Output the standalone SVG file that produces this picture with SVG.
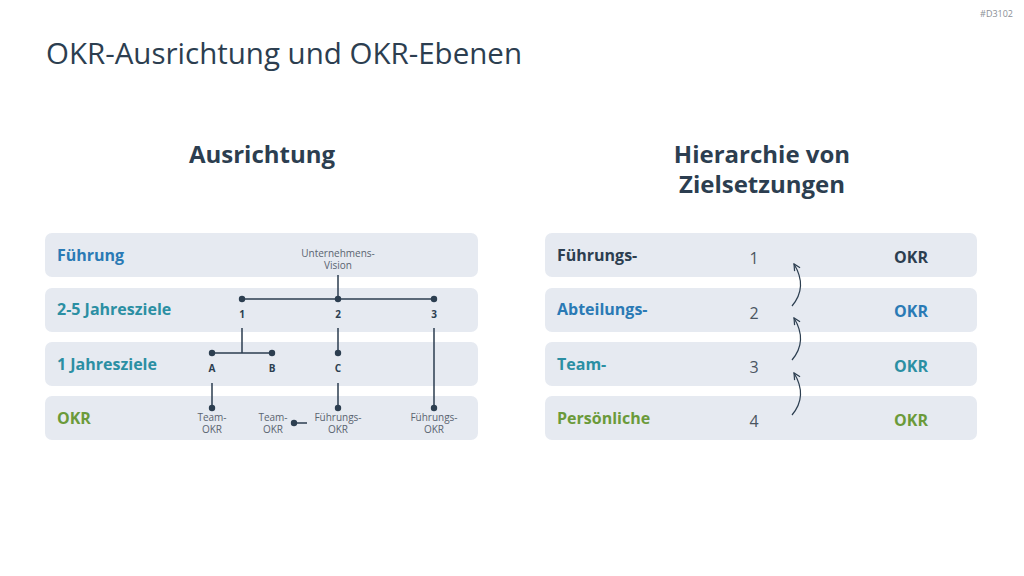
<svg xmlns="http://www.w3.org/2000/svg" width="1024" height="576" viewBox="0 0 1024 576">
<defs>
<style>
.bg{fill:#e6eaf1}
.t{font-family:"Open Sans","Liberation Sans",sans-serif}
.lbl{font-family:"Open Sans","Liberation Sans",sans-serif;font-size:16px;font-weight:700}
.sm{font-family:"Open Sans","Liberation Sans",sans-serif;font-size:10px;fill:#5a6470;text-anchor:middle}
.b{font-family:"Open Sans","Liberation Sans",sans-serif;font-size:10px;font-weight:700;fill:#2c3e50;text-anchor:middle}
.num{font-family:"Open Sans","Liberation Sans",sans-serif;font-size:16px;fill:#4a5560;text-anchor:middle}
.ln{stroke:#2c3e50;stroke-width:1.5;fill:none}
.dot{fill:#2c3e50}
.arr{stroke:#2c3e50;stroke-width:1.2;fill:none}
</style>
<marker id="ah" viewBox="0 0 10 10" refX="9" refY="5" markerWidth="8" markerHeight="8" orient="auto-start-reverse" markerUnits="userSpaceOnUse">
<path d="M1,1 L9,5 L1,9" fill="none" stroke="#2c3e50" stroke-width="1.5"/>
</marker>
</defs>
<rect width="1024" height="576" fill="#ffffff"/>
<text x="1013" y="17" class="t" font-size="9" fill="#8a8f96" text-anchor="end">#D3102</text>
<text x="46" y="64" class="t" font-size="29.5" fill="#2c3e50">OKR-Ausrichtung und OKR-Ebenen</text>

<text x="262" y="163" class="t" font-size="24" font-weight="700" fill="#2c3e50" text-anchor="middle">Ausrichtung</text>
<text x="762" y="163" class="t" font-size="24" font-weight="700" fill="#2c3e50" text-anchor="middle">Hierarchie von</text>
<text x="762" y="193" class="t" font-size="24" font-weight="700" fill="#2c3e50" text-anchor="middle">Zielsetzungen</text>

<g id="row-fuehrung"><rect class="bg" x="45" y="233" width="433" height="44" rx="7"/><text x="57" y="261" class="lbl" fill="#2a7ab5">Führung</text></g>
<g id="row-2-5"><rect class="bg" x="45" y="288" width="433" height="44" rx="7"/><text x="57" y="315" class="lbl" fill="#2b8fa3">2-5 Jahresziele</text></g>
<g id="row-1"><rect class="bg" x="45" y="342" width="433" height="44" rx="7"/><text x="57" y="370" class="lbl" fill="#2b8fa3">1 Jahresziele</text></g>
<g id="row-okr"><rect class="bg" x="45" y="396" width="433" height="44" rx="7"/><text x="57" y="424" class="lbl" fill="#6b9a3a">OKR</text></g>

<g id="lvl1"><rect class="bg" x="545" y="233" width="432" height="44" rx="7"/><text x="557" y="261" class="lbl" fill="#2c3e50">Führungs-</text><text x="754" y="264" class="num">1</text><text x="911" y="263" class="lbl" fill="#2c3e50" text-anchor="middle">OKR</text></g>
<g id="lvl2"><rect class="bg" x="545" y="288" width="432" height="44" rx="7"/><text x="557" y="315" class="lbl" fill="#2a7ab5">Abteilungs-</text><text x="754" y="319" class="num">2</text><text x="911" y="317" class="lbl" fill="#2a7ab5" text-anchor="middle">OKR</text></g>
<g id="lvl3"><rect class="bg" x="545" y="342" width="432" height="44" rx="7"/><text x="557" y="370" class="lbl" fill="#2b8fa3">Team-</text><text x="754" y="373" class="num">3</text><text x="911" y="372" class="lbl" fill="#2b8fa3" text-anchor="middle">OKR</text></g>
<g id="lvl4"><rect class="bg" x="545" y="396" width="432" height="44" rx="7"/><text x="557" y="424" class="lbl" fill="#6b9a3a">Persönliche</text><text x="754" y="427" class="num">4</text><text x="911" y="426" class="lbl" fill="#6b9a3a" text-anchor="middle">OKR</text></g>

<g id="connectors">
<path class="ln" d="M338,275 V299 M242,299 H434 M242,328 V353 M212,353 H272 M338,328 V353 M434,328 V408 M212,383 V408 M338,383 V408 M294,423 H307"/>
<path class="arr" marker-end="url(#ah)" d="M792,306 Q808,287 794,264"/>
<path class="arr" marker-end="url(#ah)" d="M792,360 Q808,341 794,318"/>
<path class="arr" marker-end="url(#ah)" d="M792,415 Q808,396 794,373"/>
</g>

<g id="vision"><text x="338" y="257" class="sm">Unternehmens-</text><text x="338" y="269" class="sm">Vision</text></g>
<g id="n1"><circle class="dot" cx="242" cy="299" r="3.2"/><text x="242" y="318" class="b">1</text></g>
<g id="n2"><circle class="dot" cx="338" cy="299" r="3.2"/><text x="338" y="318" class="b">2</text></g>
<g id="n3"><circle class="dot" cx="434" cy="299" r="3.2"/><text x="434" y="318" class="b">3</text></g>
<g id="nA"><circle class="dot" cx="212" cy="353" r="3.2"/><text x="212" y="372" class="b">A</text></g>
<g id="nB"><circle class="dot" cx="272" cy="353" r="3.2"/><text x="272" y="372" class="b">B</text></g>
<g id="nC"><circle class="dot" cx="338" cy="353" r="3.2"/><text x="338" y="372" class="b">C</text></g>
<g id="okr1"><circle class="dot" cx="212" cy="408" r="3.2"/><text x="212" y="421" class="sm">Team-</text><text x="212" y="433" class="sm">OKR</text></g>
<g id="okr2"><circle class="dot" cx="294" cy="423" r="3.2"/><text x="273" y="421" class="sm">Team-</text><text x="273" y="433" class="sm">OKR</text></g>
<g id="okr3"><circle class="dot" cx="338" cy="408" r="3.2"/><text x="338" y="421" class="sm">Führungs-</text><text x="338" y="433" class="sm">OKR</text></g>
<g id="okr4"><circle class="dot" cx="434" cy="408" r="3.2"/><text x="434" y="421" class="sm">Führungs-</text><text x="434" y="433" class="sm">OKR</text></g>
</svg>
